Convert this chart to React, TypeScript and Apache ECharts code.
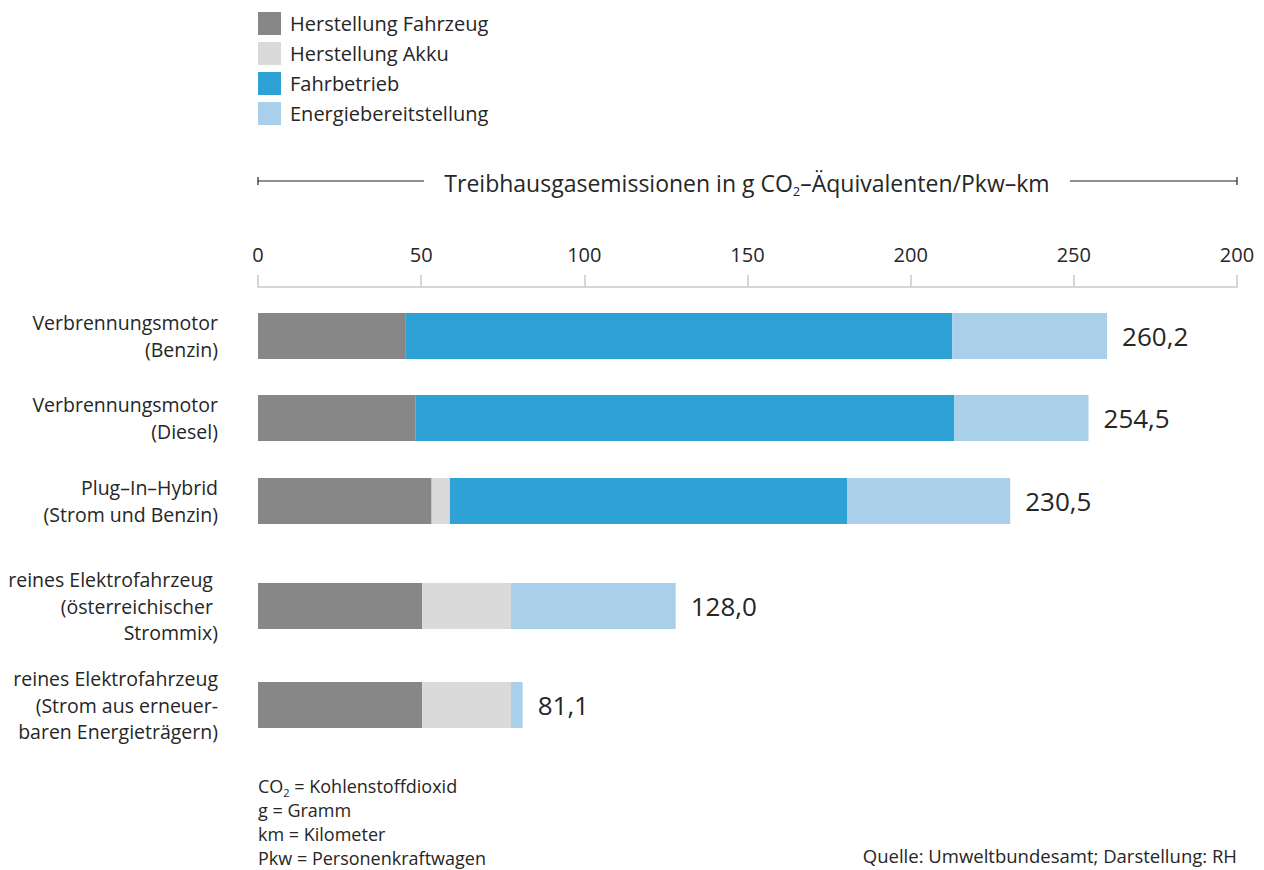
import React, { useEffect, useRef } from "react";
import * as echarts from "echarts";

const categories = [
  "Verbrennungsmotor\n(Benzin)",
  "Verbrennungsmotor\n(Diesel)",
  "Plug–In–Hybrid\n(Strom und Benzin)",
  "reines Elektrofahrzeug \n(österreichischer \nStrommix)",
  "reines Elektrofahrzeug\n(Strom aus erneuer-\nbaren Energieträgern)",
];
const seriesNames = ["Herstellung Fahrzeug", "Herstellung Akku", "Fahrbetrieb", "Energiebereitstellung"];
const herstellungFahrzeug = [45.1, 48.2, 53.2, 50.3, 50.3];
const herstellungAkku = [0, 0, 5.6, 27.2, 27.2];
const fahrbetrieb = [167.6, 165.2, 121.7, 0, 0];
const energiebereitstellung = [47.5, 41.1, 50.0, 50.5, 3.6];
const totals = [260.2, 254.5, 230.5, 128.0, 81.1];
const tickValues = [0, 50, 100, 150, 200, 250, 300];
const tickLabels = ["0", "50", "100", "150", "200", "250", "200"];

const colors = ["#878787", "#dadada", "#2ea1d5", "#aacfeb"];
const FONT = "Open Sans";
const TEXT = "#262626";

export default function App() {
  const ref = useRef<HTMLDivElement>(null);
  useEffect(() => {
    document.body.style.margin = "0";
    const chart = echarts.init(ref.current!, undefined, { renderer: "svg" });
    const centers = [336, 418, 501, 606, 705];
    const labelShift = [-4, 3, 6, 1, -1];
    const barH = 46;
    const values = [herstellungFahrzeug, herstellungAkku, fahrbetrieb, energiebereitstellung];

    const grids: any[] = [];
    const xAxes: any[] = [];
    const yAxes: any[] = [];
    const series: any[] = [];
    categories.forEach((cat, i) => {
      grids.push({ left: 258, right: 27, top: centers[i] - barH / 2, height: barH, containLabel: false });
      const first = i === 0;
      const d = labelShift[i];
      xAxes.push({
        type: "value",
        gridIndex: i,
        min: 0,
        max: 300,
        interval: 50,
        position: "top",
        offset: 26,
        show: first,
        axisLine: { show: true, lineStyle: { color: "#d6d6d6", width: 2 } },
        axisTick: { show: true, length: 12, lineStyle: { color: "#d6d6d6", width: 2 } },
        splitLine: { show: false },
        axisLabel: {
          show: true,
          margin: 23,
          fontFamily: FONT,
          fontSize: 20,
          color: TEXT,
          formatter: (v: number) => {
            const k = tickValues.indexOf(v);
            return k >= 0 ? tickLabels[k] : "";
          },
        },
      });
      yAxes.push({
        type: "category",
        gridIndex: i,
        data: [cat],
        axisLine: { show: false },
        axisTick: { show: false },
        axisLabel: {
          margin: 40,
          fontFamily: FONT,
          fontSize: 19.5,
          lineHeight: 26.5,
          color: TEXT,
          align: "right",
          padding: d > 0 ? [2 * d, 0, 0, 0] : [0, 0, -2 * d, 0],
        },
      });
      seriesNames.forEach((name, s) => {
        series.push({
          type: "bar",
          name,
          xAxisIndex: i,
          yAxisIndex: i,
          stack: "g" + i,
          barWidth: barH,
          itemStyle: { color: colors[s] },
          data: [values[s][i]],
          label:
            s === 3
              ? {
                  show: true,
                  position: "right",
                  distance: 15,
                  fontFamily: FONT,
                  fontSize: 26,
                  color: TEXT,
                  formatter: () => totals[i].toFixed(1).replace(".", ","),
                }
              : { show: false },
        });
      });
    });

    chart.setOption({
      animation: false,
      textStyle: { fontFamily: FONT },
      legend: {
        orient: "vertical",
        left: 258,
        top: 12,
        padding: 0,
        itemWidth: 23,
        itemHeight: 23,
        itemGap: 7,
        icon: "rect",
        data: seriesNames,
        textStyle: { fontFamily: FONT, fontSize: 20, color: TEXT, padding: [0, 0, 0, 4] },
        selectedMode: false,
      },
      grid: grids,
      xAxis: xAxes,
      yAxis: yAxes,
      series,
      graphic: [
        { type: "line", shape: { x1: 258, y1: 181, x2: 424, y2: 181 }, style: { stroke: "#222", lineWidth: 1.2 } },
        { type: "line", shape: { x1: 258, y1: 177, x2: 258, y2: 185 }, style: { stroke: "#222", lineWidth: 1.2 } },
        { type: "line", shape: { x1: 1070, y1: 181, x2: 1237, y2: 181 }, style: { stroke: "#222", lineWidth: 1.2 } },
        { type: "line", shape: { x1: 1237, y1: 177, x2: 1237, y2: 185 }, style: { stroke: "#222", lineWidth: 1.2 } },
        {
          type: "text",
          x: 747,
          y: 183,
          style: {
            text: "{m|Treibhausgasemissionen in g CO}{sub|2}{m|–Äquivalenten/Pkw–km}",
            fontFamily: FONT,
            fontSize: 23,
            fill: TEXT,
            align: "center",
            verticalAlign: "middle",
            rich: {
              m: { fontSize: 23, fontFamily: FONT, fill: TEXT, lineHeight: 30 },
              sub: { fontSize: 13, fontFamily: FONT, fill: TEXT, verticalAlign: "bottom", lineHeight: 13, padding: [0, 0, 1, 0] },
            },
          },
        },
        {
          type: "text",
          left: 258,
          top: 774,
          style: {
            text: "CO{sub|2} = Kohlenstoffdioxid\ng = Gramm\nkm = Kilometer\nPkw = Personenkraftwagen",
            fontFamily: FONT,
            fontSize: 18,
            lineHeight: 24,
            fill: TEXT,
            rich: {
              sub: { fontSize: 11, fontFamily: FONT, fill: TEXT, verticalAlign: "bottom", lineHeight: 11, padding: [12, 0, 0, 0] },
            },
          },
        },
        {
          type: "text",
          right: 27,
          top: 846,
          style: {
            text: "Quelle: Umweltbundesamt; Darstellung: RH",
            fontFamily: FONT,
            fontSize: 18.5,
            fill: TEXT,
          },
        },
      ],
    });
    return () => chart.dispose();
  }, []);
  return <div ref={ref} style={{ width: 1264, height: 870 }} />;
}
